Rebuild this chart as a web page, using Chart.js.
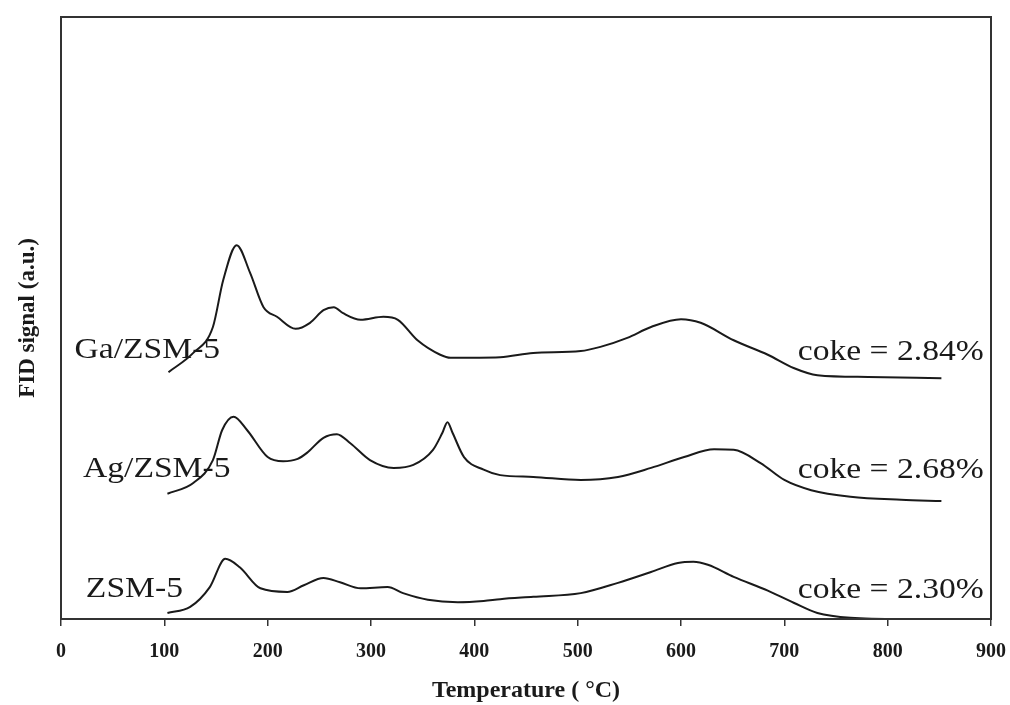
<!DOCTYPE html>
<html>
<head>
<meta charset="utf-8">
<script src="https://cdn.jsdelivr.net/npm/chart.js@4.4.1/dist/chart.umd.min.js"></script>
<style>
  html, body { margin: 0; padding: 0; background: #fff; }
  #wrap { width: 1010px; height: 705px; }
</style>
</head>
<body>
<div id="wrap"><canvas id="tpo-chart" width="1010" height="705"></canvas></div>
<script>
// temperatures (°C) and FID signal (a.u.) for each catalyst
const gaTemp = [104, 128, 147, 157, 170, 183, 196, 209, 227, 241, 254, 264, 273, 290, 312, 326, 345, 367, 377, 425, 457, 503, 522, 548, 571, 600, 619, 651, 684, 709, 732, 781, 852];
const gaSignal = [41.0, 44.2, 48.5, 56.3, 62.1, 57.5, 51.8, 50.2, 48.2, 49.2, 51.3, 51.8, 50.8, 49.7, 50.2, 49.7, 46.3, 43.9, 43.4, 43.5, 44.2, 44.5, 45.2, 46.7, 48.5, 49.8, 49.2, 46.3, 43.9, 41.7, 40.5, 40.2, 40.0];

const agTemp = [103, 128, 147, 156, 167, 180, 200, 215, 229, 238, 254, 267, 280, 299, 322, 341, 360, 369, 374, 379, 390, 409, 425, 457, 503, 539, 571, 603, 632, 651, 677, 700, 726, 764, 813, 852];
const agSignal = [20.8, 22.6, 26.4, 31.4, 33.6, 31.4, 26.9, 26.2, 26.6, 27.6, 30.1, 30.7, 29.2, 26.4, 25.1, 25.6, 28.1, 30.9, 32.7, 30.9, 26.9, 24.8, 23.9, 23.6, 23.1, 23.6, 25.1, 26.9, 28.2, 28.1, 25.9, 23.1, 21.4, 20.3, 19.8, 19.6];

const zsmTemp = [103, 125, 144, 159, 173, 193, 219, 235, 254, 270, 290, 316, 331, 355, 384, 409, 425, 457, 503, 539, 571, 597, 612, 626, 651, 684, 709, 732, 764, 813, 852];
const zsmSignal = [1.0, 2.0, 5.3, 10.0, 8.6, 5.1, 4.5, 5.6, 6.8, 6.1, 5.1, 5.3, 4.3, 3.2, 2.8, 3.0, 3.3, 3.7, 4.3, 6.0, 7.8, 9.3, 9.5, 9.0, 7.0, 4.7, 2.7, 1.0, 0.2, 0, 0];

const sampleNames = ["Ga/ZSM-5", "Ag/ZSM-5", "ZSM-5"];
const cokeContent = ["2.84", "2.68", "2.30"];
const xTicks = [0, 100, 200, 300, 400, 500, 600, 700, 800, 900];

const toPoints = (xs, ys) => xs.map((x, i) => ({ x: x, y: ys[i] }));

// where the text sits, in axis units
const nameAnchors = [
  { x: 154, y: 43.4 },
  { x: 164, y: 23.6 },
  { x: 118, y: 3.7 }
];
const cokeAnchors = [
  { x: 713, y: 43.0 },
  { x: 713, y: 23.4 },
  { x: 713, y: 3.5 }
];

const serif = "'Liberation Serif', 'Times New Roman', serif";

// the curve labels use a wide book face; stretch Times a little to get the same run
function wideText(ctx, text, x, y, align) {
  const stretch = 1.12;
  ctx.save();
  ctx.translate(x, y);
  ctx.scale(stretch, 1);
  ctx.textAlign = align;
  ctx.fillText(text, 0, 0);
  ctx.restore();
}

const curveLabels = {
  id: "curveLabels",
  afterDatasetsDraw(chart) {
    const { ctx, chartArea, scales } = chart;
    ctx.save();
    // closed frame around the plot
    ctx.strokeStyle = "#333";
    ctx.lineWidth = 2;
    ctx.strokeRect(chartArea.left, chartArea.top, chartArea.right - chartArea.left, chartArea.bottom - chartArea.top);

    ctx.fillStyle = "#1a1a1a";
    ctx.font = "30px " + serif;
    ctx.textBaseline = "alphabetic";
    sampleNames.forEach((name, i) => {
      wideText(ctx, name, scales.x.getPixelForValue(nameAnchors[i].x), scales.y.getPixelForValue(nameAnchors[i].y), "right");
      wideText(ctx, "coke = " + cokeContent[i] + "%", scales.x.getPixelForValue(cokeAnchors[i].x), scales.y.getPixelForValue(cokeAnchors[i].y), "left");
    });
    ctx.restore();
  }
};

const lineStyle = {
  borderColor: "#1a1a1a",
  borderWidth: 2,
  pointRadius: 0,
  fill: false,
  cubicInterpolationMode: "monotone"
};

new Chart(document.getElementById("tpo-chart"), {
  type: "line",
  data: {
    datasets: [
      { label: sampleNames[0], data: toPoints(gaTemp, gaSignal), ...lineStyle },
      { label: sampleNames[1], data: toPoints(agTemp, agSignal), ...lineStyle },
      { label: sampleNames[2], data: toPoints(zsmTemp, zsmSignal), ...lineStyle }
    ]
  },
  options: {
    responsive: false,
    animation: false,
    layout: { padding: { top: 17, right: 19, left: 0, bottom: 0 } },
    plugins: {
      legend: { display: false },
      tooltip: { enabled: false }
    },
    scales: {
      x: {
        type: "linear",
        min: 0,
        max: 900,
        afterBuildTicks: (axis) => { axis.ticks = xTicks.map(v => ({ value: v })); },
        afterFit: (axis) => {
          axis.height = 86;
          axis.paddingLeft = 0;
          axis.paddingRight = 0;
        },
        grid: { drawOnChartArea: false, drawTicks: true, tickLength: 7, color: "#333", lineWidth: 1.5 },
        border: { color: "#333", width: 2 },
        ticks: {
          color: "#1a1a1a",
          padding: 14,
          maxRotation: 0,
          font: { family: serif, size: 20, weight: "bold" }
        },
        title: {
          display: true,
          text: "Temperature ( °C)",
          color: "#1a1a1a",
          padding: { top: 6, bottom: 0 },
          font: { family: serif, size: 24, weight: "bold" }
        }
      },
      y: {
        min: 0,
        max: 100,
        afterFit: (axis) => { axis.width = 61; },
        grid: { display: false },
        border: { color: "#333", width: 2 },
        ticks: { display: false },
        title: {
          display: true,
          text: "FID signal (a.u.)",
          color: "#1a1a1a",
          padding: { top: 14, bottom: 0 },
          font: { family: serif, size: 23, weight: "bold" }
        }
      }
    }
  },
  plugins: [curveLabels]
});
</script>
</body>
</html>
